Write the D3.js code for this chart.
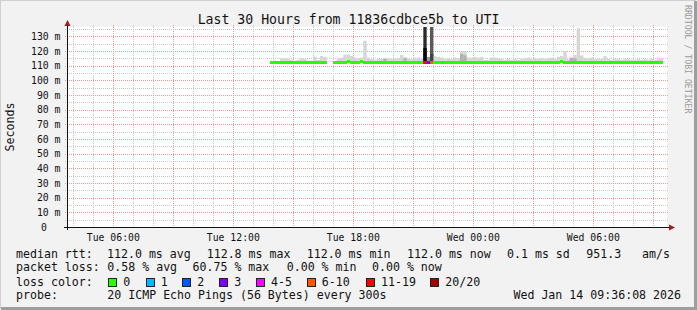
<!DOCTYPE html>
<html lang="en">
<head>
<meta charset="utf-8" />
<title>smokeping</title>
<script src="https://cdn.jsdelivr.net/npm/d3@7"></script>
<style>
  body { margin: 0; background: #f2f2f2; }
  svg { display: block; font-family: 'DejaVu Sans Mono', monospace; }
  text { white-space: pre; }
</style>
</head>
<body>
<div id="chart"></div>
<script>
// 10 minute buckets starting Tue 13:50 UTC, values in ms
var median = [
  112, 112, 112, 112, 112, 112, 112, 112, 112, 112,   // 0-9
  112, 112, 112, 112, 112, 112, 112, null, null, 112, // 10-19
  112, 112, 112, 112.8, 112, 112, 112, 112.8, 112, 112, // 20-29
  112, 112, 112, 112, 112, 112, 112, 112, 112, 112,   // 30-39
  112, 112, 112, 112, 112, 112, 112, 112, 112, 112,   // 40-49
  112, 112, 112, 112, 112, 112, 112, 112, 112, 112,   // 50-59
  112, 112, 112, 112, 112, 112, 112, 112, 112, 112,   // 60-69
  112, 112, 112, 112, 112, 112, 112, 112, 112, 112,   // 70-79
  112, 112, 112, 112, 112, 112, 112, 112.8, 112, 112, // 80-89
  112, 112, 112, 112, 112, 112, 112, 112, 112, 112,   // 90-99
  112, 112, 112, 112, 112, 112, 112, 112, 112, 112,   // 100-109
  112, 112, 112, 112, 112, 112, 112, 112              // 110-117
];
var smokeHi = [
  113, 113.5, 113, 115, 115, 114.8, 114, 113.5, 114, 115,   // 0-9
  114.5, 113.5, 113.5, 116.3, 114, 116.6, 116, null, null, 113, // 10-19
  115, 115.5, 117.6, 117.6, 116.6, 115.5, 115, 115.5, 127, 115.5, // 20-29
  114.5, 114, 114.5, 114.5, 115.4, 115, 114.5, 115, 114.5, 117.3, // 30-39
  116, 115, 114.5, 115.4, 115.5, 115, 140, 116, 140, 116.5, // 40-49
  116, 115.5, 114.5, 115, 114.5, 115.5, 115, 120, 120, 115.5, // 50-59
  115.5, 116, 115.5, 116, 114, 114, 115.5, 115.5, 115, 114.5, // 60-69
  114, 114.5, 114, 114.5, 114, 114.5, 115, 115.5, 114.5, 115, // 70-79
  114.5, 115, 114.5, 115, 115.5, 114.5, 116, 116.6, 120, 114.5, // 80-89
  114.5, 117.3, 135.5, 117, 115.4, 115, 115.5, 114.5, 114.5, 114.5, // 90-99
  116.5, 114.5, 114, 114.5, 114.5, 114, 114.5, 114.5, 114, 114, // 100-109
  114.5, 114, 114.5, 114, 114.5, 114, 114.5, 115            // 110-117
];
// darker part of the smoke (null = none above the median)
var smokeMid = [
  null, null, null, null, null, null, null, null, null, null,
  null, null, null, null, null, null, null, null, null, null,
  null, null, null, null, null, null, null, null, null, null,
  null, null, null, null, 114.5, null, null, null, null, null,
  115, null, null, null, null, null, 122, null, 118, null,
  null, null, null, null, null, null, null, 118, 117, null,
  null, null, null, null, null, null, null, null, null, null,
  null, null, null, null, null, null, null, null, null, null,
  null, null, null, null, null, null, null, 113.5, null, null,
  115.5, 115, null, null, null, null, null, null, null, null,
  null, null, null, null, null, null, null, null, null, null,
  null, null, null, null, null, null, null, null
];
// lost pings out of 20
var loss = [
  0, 0, 0, 0, 0, 0, 0, 0, 0, 0,
  0, 0, 0, 0, 0, 0, 0, null, null, 0,
  0, 0, 0, 0, 0, 0, 0, 0, 0, 0,
  0, 0, 0, 0, 0, 0, 0, 0, 0, 0,
  0, 0, 0, 0, 0, 0, 12, 3, 8, 0,
  0, 0, 0, 0, 0, 0, 0, 0, 0, 0,
  0, 0, 0, 0, 0, 0, 0, 0, 0, 0,
  0, 0, 0, 0, 0, 0, 0, 0, 0, 0,
  0, 0, 0, 0, 0, 0, 0, 0, 0, 0,
  0, 0, 0, 0, 0, 0, 0, 0, 0, 0,
  0, 0, 0, 0, 0, 0, 0, 0, 0, 0,
  0, 0, 0, 0, 0, 0, 0, 0
];
var lossLabels = ["0", "1", "2", "3", "4-5", "6-10", "11-19", "20/20"];
var lossColors = ["#26ff00", "#00b8ff", "#0059ff", "#7e00ff", "#ff00ff", "#ff5500", "#ff0000", "#a00000"];
var yTicks = [0, 10, 20, 30, 40, 50, 60, 70, 80, 90, 100, 110, 120, 130];

var W = 697, H = 310;
var pL = 67, pR = 667, pT = 27, pB = 227;
var tStart = new Date(Date.UTC(2026, 0, 13, 3, 41));
var tEnd = new Date(Date.UTC(2026, 0, 14, 9, 41));
var dataStart = Date.UTC(2026, 0, 13, 13, 50);
var step = 10 * 60 * 1000;

var x = d3.scaleUtc().domain([tStart, tEnd]).range([pL, pR]);
var y = d3.scaleLinear().domain([0, 136.36]).range([pB, pT]);

var rows = median.map(function(m, i) {
  return { t0: new Date(dataStart + i * step), t1: new Date(dataStart + (i + 1) * step),
           med: m, hi: smokeHi[i], mid: smokeMid[i], loss: loss[i] };
});

var lossColor = d3.scaleThreshold().domain([1, 2, 3, 4, 6, 11, 20]).range(lossColors);
var smokeLight = d3.scaleThreshold().domain([1, 6, 11]).range(["#d6d6d6", "#9a9a9a", "#5a5a5a", "#2a2a2a"]);
var smokeDark = d3.scaleThreshold().domain([1, 6, 11]).range(["#b2b2b2", "#808080", "#444444", "#000000"]);

var svg = d3.select('#chart').append('svg').attr('width', W).attr('height', H);

// frame
svg.append('rect').attr('width', W).attr('height', H).attr('fill', '#f2f2f2');
svg.append('path').attr('d', 'M0,309V0H696').attr('fill', 'none').attr('stroke', '#cfcfcf').attr('stroke-width', 2);
svg.append('path').attr('d', 'M1,308.5H695.5V1').attr('fill', 'none').attr('stroke', '#9e9e9e').attr('stroke-width', 3);

svg.append('rect').attr('x', pL).attr('y', pT).attr('width', pR - pL).attr('height', pB - pT).attr('fill', '#fff');

svg.append('clipPath').attr('id', 'cv').append('rect')
  .attr('x', pL).attr('y', pT).attr('width', pR - pL).attr('height', pB - pT);

// grid
var grid = svg.append('g').attr('stroke-width', 1).attr('stroke-dasharray', '1,1');
var minorY = d3.range(5, 136, 10);
grid.selectAll('.gy').data(minorY).enter().append('line')
  .attr('x1', pL - 2).attr('x2', pR + 2)
  .attr('y1', function(d) { return Math.round(y(d)) + 0.5; })
  .attr('y2', function(d) { return Math.round(y(d)) + 0.5; })
  .attr('stroke', '#c8c8c8');
grid.selectAll('.gx').data(d3.utcHour.every(1).range(tStart, tEnd).filter(function(d) { return d.getUTCHours() % 3; }))
  .enter().append('line')
  .attr('y1', pT - 2).attr('y2', pB + 2)
  .attr('x1', function(d) { return Math.round(x(d)) + 0.5; })
  .attr('x2', function(d) { return Math.round(x(d)) + 0.5; })
  .attr('stroke', '#c8c8c8');
grid.selectAll('.my').data(yTicks.slice(1)).enter().append('line')
  .attr('x1', pL - 2).attr('x2', pR + 2)
  .attr('y1', function(d) { return Math.round(y(d)) + 0.5; })
  .attr('y2', function(d) { return Math.round(y(d)) + 0.5; })
  .attr('stroke', '#eb9a9a');
grid.selectAll('.mx').data(d3.utcHour.every(3).range(tStart, tEnd))
  .enter().append('line')
  .attr('y1', pT - 2).attr('y2', pB + 2)
  .attr('x1', function(d) { return Math.round(x(d)) + 0.5; })
  .attr('x2', function(d) { return Math.round(x(d)) + 0.5; })
  .attr('stroke', '#eb9a9a');

// smoke
var plot = svg.append('g').attr('clip-path', 'url(#cv)');
var valid = rows.filter(function(d) { return d.med != null; });
plot.selectAll('.smoke').data(valid).enter().append('rect')
  .attr('x', function(d) { return x(d.t0); })
  .attr('width', function(d) { return x(d.t1) - x(d.t0); })
  .attr('y', function(d) { return y(d.hi); })
  .attr('height', function(d) { return y(d.med) - y(d.hi); })
  .attr('fill', function(d) { return smokeLight(d.loss); });
plot.selectAll('.smoke2').data(valid.filter(function(d) { return d.mid != null; })).enter().append('rect')
  .attr('x', function(d) { return x(d.t0); })
  .attr('width', function(d) { return x(d.t1) - x(d.t0); })
  .attr('y', function(d) { return y(d.mid); })
  .attr('height', function(d) { return y(d.med) - y(d.mid); })
  .attr('fill', function(d) { return smokeDark(d.loss); });

// median line coloured by loss
var seg = d3.line().x(function(p) { return x(p[0]); }).y(function(p) { return y(p[1]); });
plot.selectAll('.med').data(valid).enter().append('path')
  .attr('d', function(d) { return seg([[d.t0, d.med], [d.t1, d.med]]); })
  .attr('stroke', function(d) { return lossColor(d.loss); })
  .attr('stroke-width', 3).attr('shape-rendering', 'crispEdges').attr('fill', 'none');

// axes
var axis = svg.append('g');
axis.append('line').attr('x1', pL - 3).attr('x2', pR + 3).attr('y1', pB + 0.5).attr('y2', pB + 0.5).attr('stroke', '#111');
axis.append('line').attr('x1', pL + 0.5).attr('x2', pL + 0.5).attr('y1', pB + 3).attr('y2', pT - 3).attr('stroke', '#111');
axis.append('path').attr('d', 'M' + (pR + 2) + ',' + (pB - 2.5) + 'l6,3l-6,3z').attr('fill', '#9b1c1c');
axis.append('path').attr('d', 'M' + (pL - 2.5) + ',' + (pT - 1) + 'l3,-6l3,6z').attr('fill', '#9b1c1c');

var tickFont = '9.8px';
svg.append('g').selectAll('text').data(yTicks).enter().append('text')
  .attr('x', function(d) { return d === 0 ? 47 : 60.5; })
  .attr('y', function(d) { return y(d) + 3.6; })
  .attr('text-anchor', 'end').attr('font-size', tickFont).attr('fill', '#111')
  .text(function(d) { return d === 0 ? '0' : d + ' m'; });

var fmt = d3.utcFormat('%a %H:%M');
svg.append('g').selectAll('text').data(d3.utcHour.every(6).range(tStart, tEnd)).enter().append('text')
  .attr('x', function(d) { return x(d); })
  .attr('y', 241)
  .attr('text-anchor', 'middle').attr('font-size', tickFont).attr('fill', '#111')
  .text(function(d) { return fmt(d); });

// titles
svg.append('text').attr('x', W / 2).attr('y', 24).attr('text-anchor', 'middle')
  .attr('font-size', '13.2px').attr('fill', '#111').text('Last 30 Hours from 11836cdbce5b to UTI');
svg.append('text').attr('transform', 'translate(14,' + ((pT + pB) / 2) + ') rotate(-90)')
  .attr('text-anchor', 'middle').attr('font-size', '11.6px').attr('fill', '#111').text('Seconds');
svg.append('text').attr('transform', 'translate(685,5) rotate(90)')
  .attr('font-size', '8.2px').attr('fill', '#9a9a9a').text('RRDTOOL / TOBI OETIKER');

// legend
var lg = svg.append('g').attr('font-size', '11.6px').attr('fill', '#111');
var legendRows = [
  [257.7, [[16, 'median rtt:'], [107, '112.0 ms avg'], [206.7, '112.8 ms max'], [306.7, '112.0 ms min'],
           [407, '112.0 ms now'], [507, '0.1 ms sd'], [586.3, '951.3'], [642, 'am/s']]],
  [271.2, [[16, 'packet loss:'], [107.3, '0.58 % avg'], [192.5, '60.75 % max'], [286.7, '0.00 % min'], [372, '0.00 % now']]],
  [285.5, [[16, 'loss color:']]],
  [299, [[16, 'probe:'], [107.3, '20 ICMP Echo Pings (56 Bytes) every 300s']]]
];
legendRows.forEach(function(r) {
  r[1].forEach(function(it) {
    lg.append('text').attr('x', it[0]).attr('y', r[0]).text(it[1]);
  });
});
lg.append('text').attr('x', 681).attr('y', 299).attr('text-anchor', 'end').text('Wed Jan 14 09:36:08 2026');

var boxX = [108.3, 145.7, 182.3, 219.3, 256, 306.7, 366, 430.3];
lossLabels.forEach(function(l, i) {
  lg.append('rect').attr('x', Math.round(boxX[i]) + 0.5).attr('y', 278.5).attr('width', 8).attr('height', 8)
    .attr('fill', lossColors[i]).attr('stroke', '#222');
  lg.append('text').attr('x', boxX[i] + 15).attr('y', 285.5).text(l);
});
</script>
</body>
</html>
